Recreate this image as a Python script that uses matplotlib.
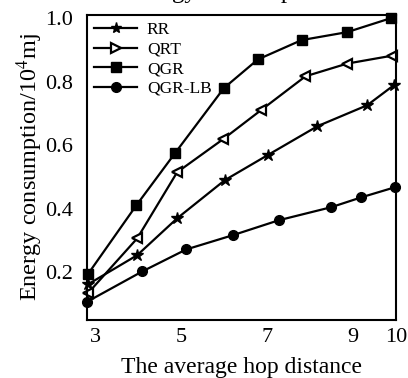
import numpy as np
import matplotlib.pyplot as plt
from matplotlib.lines import Line2D

plt.rcParams['font.family'] = 'Liberation Serif'
plt.rcParams['mathtext.fontset'] = 'stix'

# data
x_rr = [2.82, 3.97, 4.90, 6.01, 7.01, 8.17, 9.33, 9.95]
rr = [0.162, 0.254, 0.370, 0.490, 0.569, 0.660, 0.726, 0.789]

x_qrt = [2.82, 3.97, 4.90, 5.97, 6.85, 7.89, 8.86, 9.91]
qrt = [0.134, 0.307, 0.515, 0.619, 0.710, 0.817, 0.857, 0.882]

x_qgr = [2.82, 3.95, 4.85, 5.99, 6.78, 7.80, 8.86, 9.88]
qgr = [0.194, 0.411, 0.575, 0.780, 0.870, 0.931, 0.956, 1.0]

x_lb = [2.81, 4.09, 5.11, 6.20, 7.27, 8.49, 9.19, 9.98]
qgr_lb = [0.108, 0.203, 0.272, 0.317, 0.364, 0.405, 0.436, 0.468]

xticks = [3, 5, 7, 9, 10]
yticks = [0.2, 0.4, 0.6, 0.8, 1.0]

fig = plt.figure(figsize=(4.08, 3.78), dpi=100)
ax = fig.add_axes([87/408, 1-320/378, 309/408, 305/378])

lw = 1.6
ax.plot(x_rr, rr, color='k', lw=lw, marker='*', ms=9, clip_on=False)
ax.plot(x_qrt, qrt, color='k', lw=lw, marker='<', ms=7, mfc='white', mew=1.6, clip_on=False)
ax.plot(x_qgr, qgr, color='k', lw=lw, marker='s', ms=7, clip_on=False)
ax.plot(x_lb, qgr_lb, color='k', lw=lw, marker='o', ms=7, clip_on=False)

handles = [Line2D([], [], color='k', lw=lw, marker='*', ms=8),
           Line2D([], [], color='k', lw=lw, marker='>', ms=7, mfc='white', mew=1.6),
           Line2D([], [], color='k', lw=lw, marker='s', ms=7),
           Line2D([], [], color='k', lw=lw, marker='o', ms=7)]
ax.legend(handles, ['RR', 'QRT', 'QGR', 'QGR-LB'], loc='upper left', frameon=False,
          fontsize=12.5, handlelength=2.5, handletextpad=0.55, labelspacing=0.2,
          borderaxespad=0.0, bbox_to_anchor=(0.0, 1.0))

ax.set_xlim(2.8, 10)
ax.set_ylim(0.05, 1.01)
ax.set_xticks(xticks)
ax.set_yticks(yticks)
ax.set_yticklabels(['%.1f' % v for v in yticks])
ax.tick_params(length=0, labelsize=16)
ax.tick_params(axis='y', pad=10)
ax.tick_params(axis='x', pad=6)
for s in ax.spines.values():
    s.set_linewidth(1.5)

ax.set_xlabel('The average hop distance', fontsize=17, labelpad=7)
ax.set_ylabel('Energy consumption/10$^4$mj', fontsize=17.5, labelpad=0)
# title sits mostly above the picture, only the descenders show
fig.text(229/408, 1.006, 'Energy consumption', fontsize=18, ha='center', va='baseline')

fig.savefig('out.png', dpi=100)
